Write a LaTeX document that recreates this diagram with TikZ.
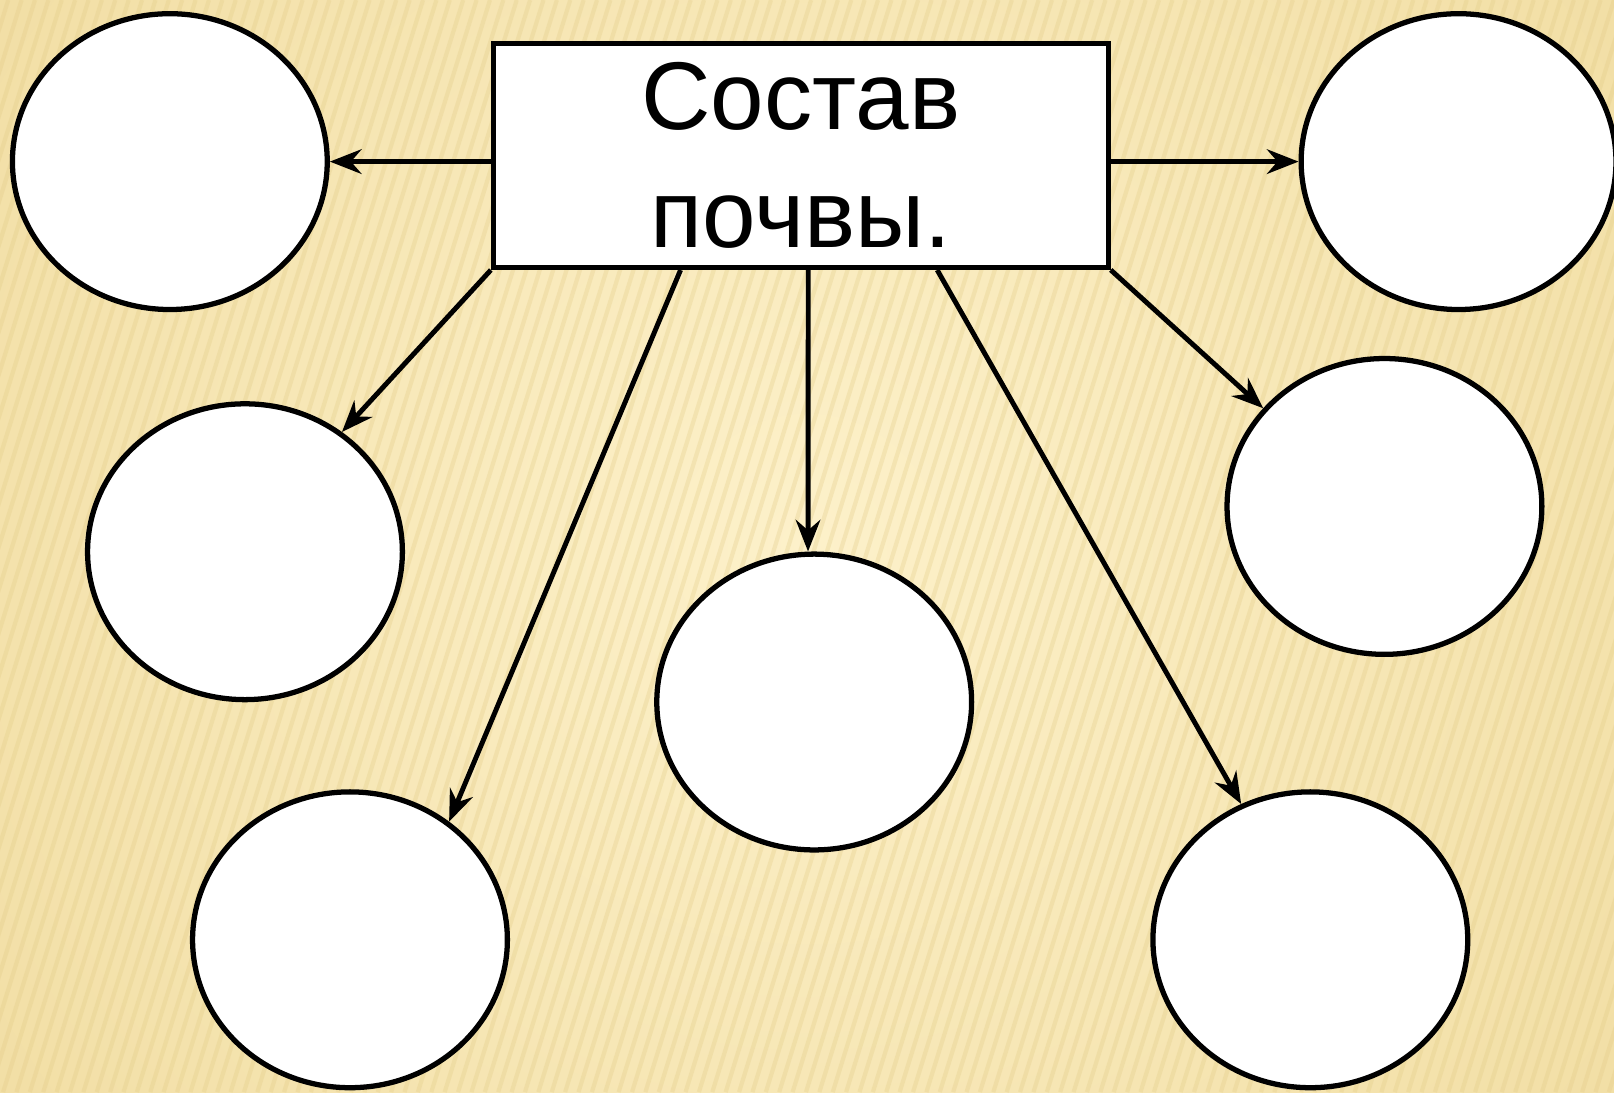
\documentclass[tikz,border=0pt]{standalone}
\usepackage{fontspec}
\setmainfont{Liberation Sans}
\usetikzlibrary{arrows,arrows.meta,shapes,positioning,calc}
\definecolor{paper}{HTML}{FDF1CA}
\definecolor{paperdark}{HTML}{F1DDA2}
\definecolor{stripe}{HTML}{E2CB85}
\tikzset{
    raw blank/.style={ellipse, line width=1.5pt, draw, fill=white, inner sep=0pt},
    blank/.style={raw blank, draw=black, minimum width=3.15cm, minimum height=2.96cm},
    title box/.style={rectangle, line width=1.5pt, draw=black, fill=white, minimum width=6.15cm, minimum height=2.24cm, inner sep=0pt, align=center, font=\fontsize{27.4}{33.5}\selectfont},
    link/.style={->, line width=1.4pt, draw}
}
\begin{document}
\begin{tikzpicture}[x=0.010293cm,y=-0.010293cm,>={Stealth[length=9pt,width=7pt,inset=3pt]}]
\useasboundingbox (0,0) rectangle (1568,1061);
% paper background
\begin{scope}
	\clip (0,0) rectangle (1568,1061);
	\shade[inner color=paper, outer color=paperdark] (-250,-500) rectangle (1818,1561);
	\foreach \x in {-400,-387,...,1568}
		\draw[stripe, opacity=0.3, line width=1.2pt] (\x,1061) -- (\x+330,0);
\end{scope}
\node[title box](nodeSostav) at (778,151){Состав\\почвы.};
\begin{scope}[every node/.style={blank}]
	\node(node1) at (165,157){};
	\node(node2) at (1417,157){};
	\node(node3) at (238,536){};
	\node(node4) at (1345,492){};
	\node(node5) at (791,682){};
	\node(node6) at (340,913){};
	\node(node7) at (1273,913){};
\end{scope}
\draw[link] (node1.east -| nodeSostav.west) -- (node1.east);
\draw[link] (node2.west -| nodeSostav.east) -- (node2.west);
\draw[link] (nodeSostav.south west) -- (node3.51);
\draw[link] ($(nodeSostav.south west)!0.306!(nodeSostav.south east)$) -- (node6.50);
\draw[link] ($(nodeSostav.south west)!0.512!(nodeSostav.south east)$) -- (node5.north -| 785,0);
\draw[link] ($(nodeSostav.south west)!0.72!(nodeSostav.south east)$) -- (node7.117);
\draw[link] (nodeSostav.south east) -- (node4.141);
\end{tikzpicture}
\end{document}
